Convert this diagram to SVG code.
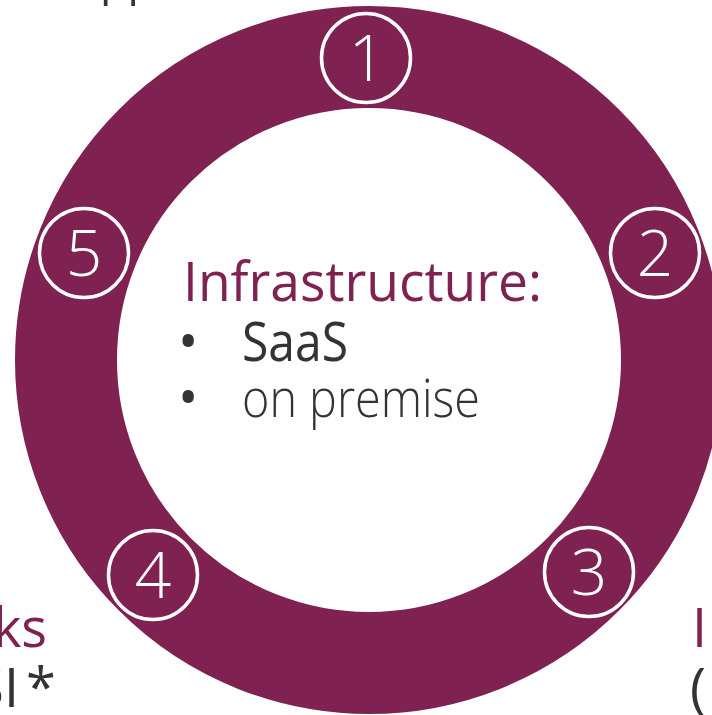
<svg xmlns="http://www.w3.org/2000/svg" width="712" height="715" viewBox="0 0 712 715">
<style>
.ring{fill:none;stroke:#7f2251;stroke-width:102}
.badge circle{fill:none;stroke:#ffffff;stroke-width:3.5}
.badge text{fill:#ffffff;font-family:"Open Sans","Noto Sans",sans-serif;font-weight:300;font-size:64px;text-anchor:middle}
.t{font-family:"Open Sans","Noto Sans",sans-serif;font-size:54px}
.p{fill:#7f2251;font-weight:400}
.d{fill:#333333;font-weight:400}
.l{fill:#333333;font-weight:300}
</style>
<rect width="712" height="715" fill="#ffffff"/>
<g id="ring"><circle class="ring" cx="369" cy="360" r="303"/></g>
<g id="connectors"></g>
<g id="node1" class="badge"><circle cx="366" cy="58" r="44.5"/><text x="367" y="81">1</text></g>
<g id="node2" class="badge"><circle cx="655" cy="253" r="44.5"/><text x="655" y="276">2</text></g>
<g id="node3" class="badge"><circle cx="589" cy="572" r="44.5"/><text x="589" y="595">3</text></g>
<g id="node4" class="badge"><circle cx="153" cy="575" r="44.5"/><text x="153" y="598">4</text></g>
<g id="node5" class="badge"><circle cx="84" cy="253" r="44.5"/><text x="84" y="276">5</text></g>
<g id="center">
<text class="t p" x="183" y="301" textLength="359" lengthAdjust="spacingAndGlyphs">Infrastructure:</text>
<text class="t d" x="178" y="361">•</text>
<text class="t d" x="242" y="361" textLength="106" lengthAdjust="spacingAndGlyphs">SaaS</text>
<text class="t d" x="178" y="417">•</text>
<text class="t l" x="242" y="417" textLength="238" lengthAdjust="spacingAndGlyphs">on premise</text>
</g>
<g id="edge-texts">
<text class="t d" x="100" y="-7" textLength="55" lengthAdjust="spacingAndGlyphs">pp</text>
<text class="t p" x="47" y="647" text-anchor="end">ks</text>
<text class="t d" y="707"><tspan x="19" text-anchor="end">SI</tspan><tspan x="26">*</tspan></text>
<text class="t p" x="692" y="647">I</text>
<text class="t d" x="690" y="707">(</text>
</g>
</svg>
